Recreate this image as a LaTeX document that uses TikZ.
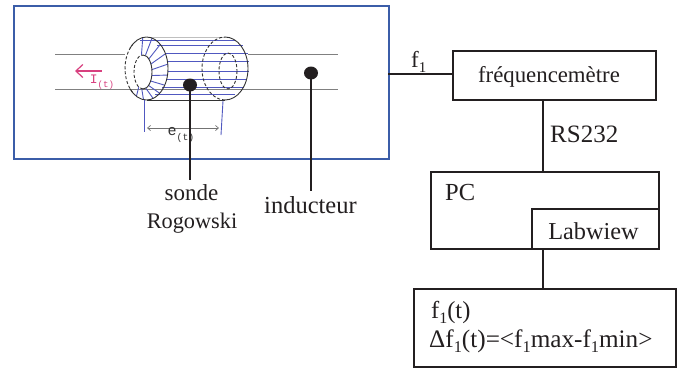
\documentclass[tikz,border=0pt]{standalone}
\usepackage{fontspec}
\setmainfont{Liberation Serif}
\newfontfamily\monof{Liberation Mono}
\usetikzlibrary{arrows.meta,shapes.geometric}
\definecolor{frameblue}{HTML}{3B5DA8}
\definecolor{coilblue}{HTML}{5058C0}
\definecolor{inkk}{HTML}{231F20}
\definecolor{pinkk}{HTML}{D8407F}
\newcommand{\sbs}[1]{\raisebox{-0.22em}{\scalebox{0.65}{#1}}}
\tikzset{
  boxx/.style={draw=inkk,line width=1.5pt,fill=white,inner sep=0pt},
  lbl/.style={text=inkk,inner sep=0pt,font=\fontsize{21}{25}\selectfont},
  wirec/.style={draw=inkk,line width=1.5pt},
  probe/.style={draw=inkk,line width=1.9pt},
  dotn/.style={ellipse,fill=inkk,minimum width=14pt,minimum height=13pt,inner sep=0pt},
  coil/.style={draw=coilblue,line width=0.9pt},
  edgee/.style={draw=black!80,line width=0.9pt},
  dash1/.style={draw=black!80,line width=0.9pt,densely dashed},
  cond/.style={draw=black!50,line width=1pt}
}
\begin{document}
\begin{tikzpicture}[x=1pt,y=-1pt]
\useasboundingbox (0,0) rectangle (681,368);
\fill[white] (0,0) rectangle (681,368);
% frame
\node[draw=frameblue,line width=1.5pt,minimum width=375pt,minimum height=153pt,inner sep=0pt] (frame) at (201.5,82.5) {};
% conductors
\draw[cond] (55,54) -- (125,54) (248,54) -- (338,54);
\draw[cond] (55,89) -- (338,89);
% coil lines
\foreach \yy/\xa/\xb in {40/140/236,45/157/243,53/165/248,61/167/249,71/168/249,79/167/247,87/162/244,94/155/235}{
  \draw[coil] (\xa,\yy) -- (\xb,\yy);
}
\draw[black!25,line width=0.6pt] (150,37) -- (225,37);
% radial turns
\foreach \a in {-100,-75,-50,-28,-8,12,32,52,72,98,118}{
  \draw[coil] ({143+9*cos(\a)},{72+17*sin(\a)}) -- ({146.5+21.5*cos(\a)},{68.5+31.5*sin(\a)});
}
% body outline
\draw[edgee] (146.5,100) arc[start angle=90,end angle=-90,x radius=21.5,y radius=31.5];
\draw[edgee] (146.5,100) arc[start angle=90,delta angle=50,x radius=21.5,y radius=31.5];
\draw[edgee] (146.5,37) arc[start angle=-90,delta angle=-50,x radius=21.5,y radius=31.5];
\draw[dash1] (132.7,92.6) arc[start angle=130,delta angle=100,x radius=21.5,y radius=31.5];
\draw[edgee] (143,55) arc[start angle=-90,end angle=90,x radius=9,y radius=17];
\draw[dash1] (143,89) arc[start angle=90,end angle=270,x radius=9,y radius=17];
\draw[edgee] (146.5,100) -- (225,100);
\draw[edgee] (225,37) arc[start angle=-90,end angle=90,x radius=23,y radius=31.5];
\draw[dash1] (225,100) arc[start angle=90,end angle=270,x radius=23,y radius=31.5];
\draw[dash1] (228,71) ellipse[x radius=9,y radius=18];
% leads and dimension
\draw[coil] (144,100) -- (144,132);
\draw[coil] (223,101) -- (221,135);
\draw[black!55,line width=0.7pt,{Straight Barb[length=3pt,width=5pt]}-{Straight Barb[length=3pt,width=5pt]}] (147,128) -- (219,128);
\node[inner sep=0pt,text=black!80,font=\monof\fontsize{15}{16}\selectfont] (et) at (181,135) {e\raisebox{-0.3em}{\scalebox{0.65}{(t)}}};
% current
\draw[pinkk,line width=1.2pt,{Straight Barb[length=7pt,width=13pt]}-] (75,71) -- (102,71);
\node[inner sep=0pt,text=pinkk,font=\monof\fontsize{13}{14}\selectfont] (it) at (102,82) {I\raisebox{-0.3em}{\scalebox{0.7}{(t)}}};
% probes
\node[dotn] (d1) at (190,85) {};
\node[dotn] (d2) at (311,73) {};
\coordinate (e1) at (190,180);
\coordinate (e2) at (311,191);
\draw[probe] (d1.center) -- (e1);
\draw[probe] (d2.center) -- (e2);
\node[lbl,font=\fontsize{23}{26}\selectfont,anchor=base] (s1) at (191.5,200) {sonde};
\node[lbl,font=\fontsize{22.3}{26}\selectfont,anchor=base] (s2) at (192,228) {Rogowski};
\node[lbl,font=\fontsize{24.5}{26}\selectfont,anchor=base] (ind) at (310.5,213) {inducteur};
% right side
\node[boxx,minimum width=203pt,minimum height=49pt] (freq) at (554.5,75.5) {};
\node[lbl,font=\fontsize{22.8}{26}\selectfont] (freqt) at (549,77) {fréquencemètre};
\node[boxx,minimum width=228pt,minimum height=77pt] (pc) at (545,210.5) {};
\node[lbl,font=\fontsize{24.5}{26}\selectfont,anchor=base west] (pct) at (445,200) {PC};
\node[boxx,minimum width=127pt,minimum height=40pt] (lab) at (595.5,229) {};
\node[lbl,font=\fontsize{24.3}{26}\selectfont] (labt) at (593.5,231) {Labwiew};
\node[boxx,minimum width=262pt,minimum height=78pt] (res) at (545,328) {};
\node[lbl,font=\fontsize{24.5}{26}\selectfont,anchor=base west] (r1) at (431,318) {f\sbs{1}(t)};
\node[lbl,font=\fontsize{25.2}{26}\selectfont,anchor=base west] (r2) at (429,347) {Δf\sbs{1}(t)=<f\sbs{1}max-f\sbs{1}min>};
\coordinate (fin) at (388,74);
\draw[wirec] (fin) -- (fin -| freq.west);
\node[lbl,font=\fontsize{23}{26}\selectfont,anchor=base west] (f1) at (411,67) {f\sbs{1}};
\coordinate (a1) at (543,100);
\coordinate (a2) at (543,172);
\coordinate (a3) at (543,249);
\coordinate (a4) at (543,289);
\draw[wirec] (a1) -- (a2);
\draw[wirec] (a3) -- (a4);
\node[lbl,font=\fontsize{25}{26}\selectfont,anchor=base west] (rs) at (550,142) {RS232};
\end{tikzpicture}
\end{document}
